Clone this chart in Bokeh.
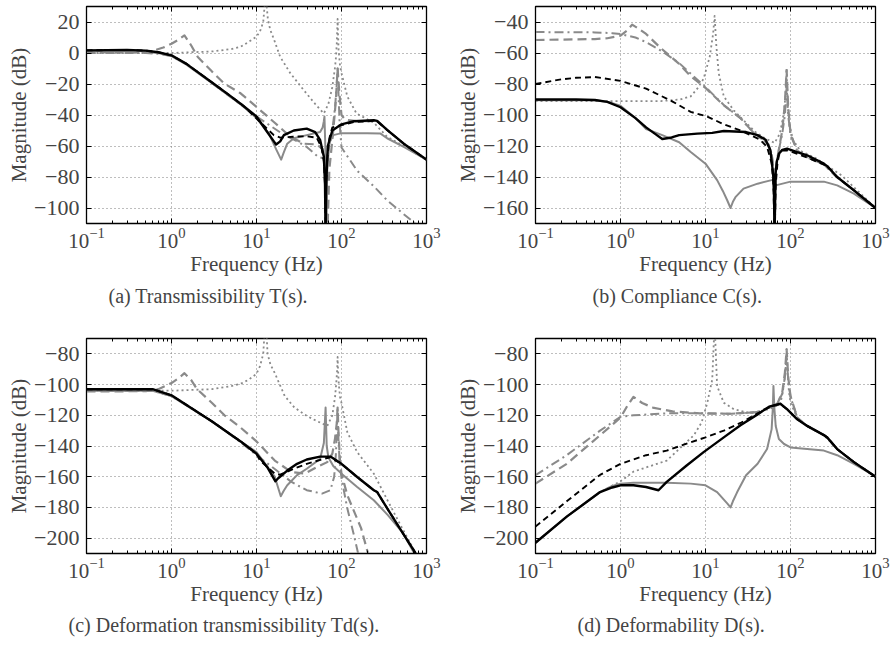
from bokeh.plotting import figure
from bokeh.models import (Range1d, FixedTicker, LogTickFormatter, CustomJSTickFormatter,
                          LinearAxis, LogAxis)
from bokeh.layouts import gridplot
from bokeh.embed import file_html
from bokeh.resources import INLINE

FONT = "Liberation Serif"
GRAY = "#8a8a8a"

X_TICKS = [0.1, 1, 10, 100, 1000]
X_MINOR = [m * 10.0 ** e for e in range(-1, 3) for m in range(2, 10)]
A_YTICKS = [-100, -80, -60, -40, -20, 0, 20]
B_YTICKS = [-160, -140, -120, -100, -80, -60, -40]
C_YTICKS = [-200, -180, -160, -140, -120, -100, -80]
D_YTICKS = [-200, -180, -160, -140, -120, -100, -80]

CAPTION_A = "(a)  Transmissibility T(s)."
CAPTION_B = "(b)  Compliance C(s)."
CAPTION_C = "(c)  Deformation transmissibility Td(s)."
CAPTION_D = "(d)  Deformability D(s)."

# ---------------- (a) Transmissibility ----------------
A_DOT_F = [0.1, 1, 3, 5, 6.5, 8, 10, 11, 12, 12.8, 13.6, 14.5, 16, 19, 25, 36, 51, 62, 70, 78, 84, 86, 88, 89, 90, 91, 92.5, 96, 100, 117, 150, 240, 344, 540, 1000]
A_DOT_DB = [0, 0, 1, 2.5, 4, 7, 10.5, 14, 20, 38, 22, 15, 9, -2.5, -13, -24, -34, -39, -33, -22, -9, -3, 6, 14, 22, 12, 2, -8, -13, -28, -39, -45, -54, -60, -69]
A_DD_F = [0.1, 0.5, 0.7, 1, 1.5, 2, 3, 5, 10, 20, 30, 39, 53, 62, 70, 78, 84, 88, 90, 92, 95, 100, 153, 240, 344, 540, 700, 850]
A_DD_DB = [0, 0, -0.5, -2, -7, -12, -19.5, -28.5, -41, -52, -57, -60.6, -67, -68, -62, -50, -35, -20, -10, -25, -45, -61, -76, -86, -95, -104, -109, -113]
A_GD_F = [0.1, 0.5, 0.63, 0.8, 1, 1.2, 1.42, 1.7, 2.04, 3, 4.2, 6.5, 10, 16, 25, 36, 51, 60, 65, 68, 72, 80, 86, 90, 94, 100, 110, 150, 260, 350, 540, 1000]
A_GD_DB = [0.3, 0.5, 1.7, 3.5, 6, 8.5, 11.4, 5, -2.6, -12, -19.8, -26, -34.8, -44.5, -54, -58.5, -59, -62, -75, -120, -75, -50, -30, -10, -25, -40, -43, -44, -44, -50, -58.5, -69]
A_GS_F = [0.1, 0.3, 0.5, 0.7, 1, 1.5, 2, 3, 5, 7, 10, 14, 17, 19.5, 21, 23, 27.5, 39, 56, 60, 62, 63, 64.5, 66, 68, 72, 80, 100, 200, 288, 344, 540, 1000]
A_GS_DB = [1.2, 1.5, 1.2, 0, -2, -7.5, -12.5, -19.5, -28.5, -34.5, -42, -52, -62, -68.8, -64, -58.5, -55, -53, -51, -48, -44, -41, -60, -120, -75, -58, -53, -51.7, -51.7, -52, -55, -60.6, -68.8]
A_BD_F = [0.1, 0.3, 0.5, 0.7, 1, 1.5, 2, 3, 5, 7, 11, 16, 19, 27, 39, 51, 58, 62, 64, 65, 66, 68, 72, 78, 100, 140, 240, 263, 344, 540, 1000]
A_BD_DB = [1.7, 2, 1.5, 0.5, -1.5, -7, -12, -19, -28, -34, -44.5, -53, -54.6, -54, -53.7, -54.6, -60.6, -70, -85, -120, -85, -68, -55, -48, -46.5, -44.5, -43.8, -44, -49.6, -58.5, -68.8]
A_BS_F = [0.1, 0.3, 0.5, 0.7, 1, 1.5, 2, 3, 5, 6.5, 10, 13, 16, 17, 19, 21, 27.5, 39, 49, 56, 62, 64, 65, 66, 69, 78, 100, 140, 240, 263, 344, 540, 1000]
A_BS_DB = [1.7, 2, 1.5, 0.5, -1.5, -7, -12, -19, -28, -32.7, -41, -50, -57, -59, -57, -53, -50, -48.8, -51, -56, -67, -85, -120, -85, -60, -50, -46, -44, -43.4, -43.8, -49.6, -58.5, -68.8]

# ---------------- (b) Compliance ----------------
B_DOT_F = [0.1, 1, 3, 5, 6.7, 8, 9.5, 11.2, 12.3, 12.8, 13.4, 14.3, 16.4, 21.5, 28, 38.7, 50, 65, 75, 84, 87, 89, 90, 91, 93, 96, 107, 130, 200, 400, 1000]
B_DOT_DB = [-91, -91, -91, -90, -88, -83, -76.6, -62.6, -47.5, -36, -55, -73, -88, -97, -103.4, -111, -115, -118, -112, -98, -88, -78, -70, -80, -92, -105, -116, -123, -128, -139, -160]
B_DD_F = [0.1, 0.5, 0.8, 1, 1.5, 2, 3, 4.9, 10, 16.4, 25.8, 37, 45, 55, 60, 63, 65, 67, 72, 80, 86, 90, 94, 100, 120, 160, 250, 350, 560, 1000]
B_DD_DB = [-46.5, -46.7, -47.2, -47.8, -50, -53, -58.5, -66.5, -82, -93.5, -102, -111.6, -115, -119, -125, -135, -180, -135, -124, -112, -100, -82, -100, -113, -123, -127.5, -132, -140, -148.6, -160]
B_GD_F = [0.1, 0.5, 0.7, 1, 1.2, 1.37, 1.6, 2, 3, 4.9, 6.7, 10, 16.4, 25.8, 37, 45, 55, 60, 63, 65, 67, 72, 80, 86, 90, 94, 100, 120, 160, 250, 350, 560, 1000]
B_GD_DB = [-51.6, -51, -50.5, -48.8, -45.5, -41.7, -44, -47.7, -57, -67, -75, -82.5, -93.8, -102, -111.6, -115, -119, -125, -135, -180, -135, -124, -110, -92, -71, -95, -112, -123, -127.5, -132, -140, -148.6, -160]
B_GS_F = [0.1, 0.5, 0.7, 1, 1.5, 2, 3.1, 4.9, 6.7, 10, 13.7, 16, 18, 19.7, 21, 22.5, 28, 41, 60, 64, 65.5, 67, 100, 247, 354, 557, 1000]
B_GS_DB = [-90.5, -90.5, -91.5, -94, -102, -109, -113, -117.6, -123.9, -131.4, -142, -149, -155, -160, -156, -153, -147.5, -144.3, -142, -141.5, -144, -145.4, -143, -143, -145.4, -150.7, -160]
B_BD_F = [0.1, 0.2, 0.3, 0.5, 1, 2, 4, 6.7, 10.5, 16.4, 25.8, 37, 44, 53, 60, 63, 65, 67, 70, 73, 80, 91, 120, 157, 247, 270, 354, 557, 1000]
B_BD_DB = [-80, -77, -76, -75.5, -78, -83, -91, -98, -101, -106, -110, -114, -116, -120.6, -131, -145, -180, -145, -132, -126, -123, -122.8, -125, -127.5, -132, -133, -140, -148.6, -160]
B_BS_F = [0.1, 0.3, 0.5, 0.7, 1, 1.5, 2, 2.6, 3.1, 4, 4.9, 8, 12, 16.4, 25.8, 30, 41, 51, 58, 62.5, 64, 65, 66, 66.8, 69, 73, 80, 91, 120, 157, 247, 270, 354, 557, 1000]
B_BS_DB = [-90, -90, -90.3, -91.5, -95, -102, -108, -112.5, -115.5, -114.5, -113, -112, -111.5, -110.3, -110.8, -111, -113, -116, -122.8, -138, -150, -180, -150, -138, -130, -125, -122.5, -121.7, -124, -126, -131.4, -133, -140, -148.6, -160]

# ---------------- (c) Deformation transmissibility ----------------
C_DOT_F = [0.1, 1, 3, 5, 6.5, 8, 10, 11, 12, 12.8, 13.5, 14.6, 16.4, 21.5, 28, 39, 51, 68, 78, 84, 87, 89, 90, 91, 93, 96, 100, 117, 153, 240, 345, 500, 750]
C_DOT_DB = [-104, -104, -103, -101, -99.5, -97, -93, -88, -80, -55, -80, -87, -92.5, -107.5, -115, -120.4, -123.7, -126.9, -120, -108, -98, -90, -82, -90, -100, -108, -112, -131, -144, -158, -175, -192, -210]
C_DD_F = [0.1, 0.6, 1, 3, 6.5, 10, 16.4, 25.8, 39, 59, 74, 82, 86, 88, 90, 92, 95, 100, 117, 140, 160]
C_DD_DB = [-104, -104, -107.5, -124, -137.5, -146, -155, -163.4, -168.8, -171, -168.8, -160, -145, -130, -116, -135, -150, -161, -180.6, -198, -212]
C_GD_F = [0.1, 0.5, 0.7, 1, 1.2, 1.42, 1.7, 2, 3, 4.2, 6.5, 10, 16.4, 25.8, 37, 51, 68, 78, 84, 88, 90, 92, 96, 100, 117, 170, 210]
C_GD_DB = [-104.5, -104.3, -103, -99, -96, -92.6, -97, -103, -112, -120, -128, -137, -149.5, -157, -158, -153.8, -150.5, -145, -135, -125, -115, -130, -150, -158, -172, -193.5, -212]
C_GS_F = [0.1, 0.6, 1, 3, 6.5, 10, 16.4, 19.3, 21, 23, 30, 39, 56, 62, 65, 67, 70, 80, 100, 153, 240, 351, 530, 720]
C_GS_DB = [-104, -104, -107.5, -124, -137, -144, -160, -172.7, -169, -165.6, -159, -154.8, -148.4, -138, -115, -140, -147.3, -153, -158, -166.7, -175.3, -185, -196.8, -210]
C_BD_F = [0.1, 0.6, 1, 3, 6.5, 10, 11, 16.4, 19, 27.5, 39, 58, 74, 100, 153, 240, 263, 345, 483, 743]
C_BD_DB = [-103, -103, -107, -124, -137, -145, -149.5, -158, -158.7, -154.8, -151.6, -148.8, -147.3, -151.6, -160.2, -168.8, -170, -180.6, -193.5, -209.7]
C_BS_F = [0.1, 0.6, 1, 3, 6.5, 10, 13.4, 16.7, 18, 23, 30, 39, 56, 74, 100, 153, 240, 263, 345, 483, 743]
C_BS_DB = [-103, -103, -107, -124, -137, -145, -153.8, -163, -161, -156, -151.6, -148.8, -146.9, -146.9, -151.6, -160.2, -168.8, -170, -180.6, -193.5, -209.7]

# ---------------- (d) Deformability ----------------
D_DOT_F = [0.1, 0.233, 0.575, 1, 1.42, 3.5, 7.3, 9, 10.5, 12, 12.8, 13.7, 16.4, 21.5, 34, 56, 76, 84, 87, 89, 90, 91, 93, 96, 100, 120, 157, 247, 354, 557, 1000]
D_DOT_DB = [-203, -186, -170, -163, -156.7, -149.5, -133, -124.7, -111.8, -96.8, -60, -101, -111.8, -116, -118.7, -116, -112.7, -100, -92, -84, -77, -84, -95, -105, -112, -121.5, -127, -132.9, -142, -150.5, -160]
D_DD_F = [0.1, 0.233, 0.575, 1, 1.42, 3.5, 8.6, 20, 40, 56, 70, 80, 86, 90, 94, 100, 120, 157, 247, 270, 354, 557, 1000]
D_DD_DB = [-159, -146, -130, -121, -120, -118.7, -118.7, -119, -118, -115, -112.5, -106, -95, -82, -97, -108, -121.5, -127, -132.9, -134.4, -142, -150.5, -160]
D_GD_F = [0.1, 0.233, 0.575, 1, 1.2, 1.42, 1.8, 2.4, 4.1, 8.6, 20, 40, 56, 70, 80, 86, 90, 94, 100, 120, 157, 247, 270, 354, 557, 1000]
D_GD_DB = [-164.5, -151.6, -133, -121.5, -114, -108, -112, -115, -117.5, -118.7, -119, -118, -115, -112.5, -105, -92, -77, -95, -107.5, -121.5, -127, -132.9, -134.4, -142, -150.5, -160]
D_GS_F = [0.1, 0.233, 0.575, 0.8, 1, 1.42, 3.5, 6.7, 10, 13.7, 18, 19.7, 21, 23.6, 30, 41, 53, 60, 62, 63, 64.5, 67, 73, 84, 100, 157, 247, 354, 557, 1000]
D_GS_DB = [-203, -186, -170, -166, -164.5, -164, -164, -164.5, -165.6, -170, -177.4, -180, -176, -170, -159, -151.6, -142, -129, -115, -101, -115, -127, -135.5, -138.7, -140.9, -142, -143, -146, -151.6, -159.8]
D_BD_F = [0.1, 0.233, 0.575, 1, 2, 3.5, 6.7, 10, 16.4, 25.8, 41, 60, 76, 91, 120, 157, 247, 270, 354, 557, 1000]
D_BD_DB = [-192.5, -176, -158.8, -151.6, -146, -143, -137.6, -134.4, -130, -125, -118.7, -114, -112.7, -116, -122.6, -126.9, -132.9, -134.4, -142, -150.5, -160]
D_BS_F = [0.1, 0.233, 0.575, 0.8, 1, 1.42, 2, 2.8, 3.5, 6, 9.5, 16.4, 25.8, 41, 56, 76, 91, 120, 157, 247, 270, 354, 557, 1000]
D_BS_DB = [-203, -186, -170, -167, -165.6, -165.6, -166.7, -168.8, -163.4, -152.7, -144, -134.4, -126.5, -119.4, -114.4, -112.5, -116, -122.6, -126.9, -132.9, -134.4, -142, -150.5, -160]

STYLE = {
    "dot": dict(line_color=GRAY, line_width=1.8, line_dash="2 3"),
    "dd": dict(line_color=GRAY, line_width=2.0, line_dash="9 4 2 4"),
    "gd": dict(line_color=GRAY, line_width=2.2, line_dash="9 5"),
    "gs": dict(line_color=GRAY, line_width=2.0),
    "bd": dict(line_color="black", line_width=1.9, line_dash="6 4"),
    "bs": dict(line_color="black", line_width=2.4),
}

YFMT = "return tick < 0 ? '\\u2212' + Math.abs(tick) : String(tick);"


def make_panel(caption, cap_offset, cap_standoff, ylo, yhi, yticks, curves,
               width, height, left, right, top, bottom):
    p = figure(width=width, height=height, x_axis_type="log",
               x_range=Range1d(0.1, 1000), y_range=Range1d(ylo, yhi),
               output_backend="svg", toolbar_location=None,
               title=caption, title_location="below",
               min_border_left=left, min_border_right=right,
               min_border_top=top, min_border_bottom=bottom)
    p.title.align = "left"
    p.title.offset = cap_offset
    p.title.text_font = FONT
    p.title.text_font_size = "20px"
    p.title.text_font_style = "normal"
    p.title.standoff = cap_standoff

    xt = FixedTicker(ticks=X_TICKS, minor_ticks=X_MINOR)
    yt = FixedTicker(ticks=yticks)

    xa = p.xaxis[0]
    xa.ticker = xt
    xa.formatter = LogTickFormatter()
    xa.axis_label = "Frequency (Hz)"
    xa.axis_label_text_font = FONT
    xa.axis_label_text_font_size = "21px"
    xa.axis_label_text_font_style = "normal"
    xa.axis_label_standoff = 1
    xa.major_label_text_font = FONT
    xa.major_label_text_font_size = "21px"
    xa.major_label_standoff = 4
    xa.major_tick_in = 5
    xa.major_tick_out = 0
    xa.minor_tick_in = 3
    xa.minor_tick_out = 0

    ya = p.yaxis[0]
    ya.ticker = yt
    ya.formatter = CustomJSTickFormatter(code=YFMT)
    ya.axis_label = "Magnitude (dB)"
    ya.axis_label_text_font = FONT
    ya.axis_label_text_font_size = "21px"
    ya.axis_label_text_font_style = "normal"
    ya.axis_label_standoff = 0
    ya.major_label_text_font = FONT
    ya.major_label_text_font_size = "22px"
    ya.major_label_standoff = 7
    ya.major_tick_in = 5
    ya.major_tick_out = 0
    ya.minor_tick_line_color = None

    empty = CustomJSTickFormatter(code="return '';")
    top_ax = LogAxis(ticker=xt, formatter=empty, major_tick_in=5, major_tick_out=0,
                     minor_tick_in=3, minor_tick_out=0, major_label_standoff=0,
                     major_label_text_font_size="1px", axis_line_color=None)
    right_ax = LinearAxis(ticker=yt, formatter=empty, major_tick_in=5, major_tick_out=0,
                          minor_tick_line_color=None, major_label_standoff=0,
                          major_label_text_font_size="1px", axis_line_color=None)
    p.add_layout(top_ax, "above")
    p.add_layout(right_ax, "right")

    for g in (p.xgrid[0], p.ygrid[0]):
        g.grid_line_color = "#7c7c7c"
        g.grid_line_dash = "1 3"
        g.grid_line_width = 1
    p.xgrid[0].ticker = xt
    p.ygrid[0].ticker = yt

    p.outline_line_color = "black"
    p.outline_line_width = 1.3
    p.outline_line_alpha = 1.0
    p.background_fill_color = "white"
    p.border_fill_color = "white"

    for key, f, db in curves:
        p.line(f, db, line_join="round", **STYLE[key])
    return p


pa = make_panel(CAPTION_A, 22, 9, -110, 30, A_YTICKS,
                [("dot", A_DOT_F, A_DOT_DB), ("dd", A_DD_F, A_DD_DB), ("gd", A_GD_F, A_GD_DB),
                 ("gs", A_GS_F, A_GS_DB), ("bd", A_BD_F, A_BD_DB), ("bs", A_BS_F, A_BS_DB)],
                445, 320, 86, 19, 6, 97)
pb = make_panel(CAPTION_B, 57, 9, -170, -30, B_YTICKS,
                [("dot", B_DOT_F, B_DOT_DB), ("dd", B_DD_F, B_DD_DB), ("gd", B_GD_F, B_GD_DB),
                 ("gs", B_GS_F, B_GS_DB), ("bd", B_BD_F, B_BD_DB), ("bs", B_BS_F, B_BS_DB)],
                446, 320, 90, 16, 6, 97)
pc = make_panel(CAPTION_C, -18, 7, -210, -70, C_YTICKS,
                [("dot", C_DOT_F, C_DOT_DB), ("dd", C_DD_F, C_DD_DB), ("gd", C_GD_F, C_GD_DB),
                 ("gs", C_GS_F, C_GS_DB), ("bd", C_BD_F, C_BD_DB), ("bs", C_BS_F, C_BS_DB)],
                445, 336, 86, 19, 18, 103)
pd = make_panel(CAPTION_D, 42, 7, -210, -70, D_YTICKS,
                [("dot", D_DOT_F, D_DOT_DB), ("dd", D_DD_F, D_DD_DB), ("gd", D_GD_F, D_GD_DB),
                 ("gs", D_GS_F, D_GS_DB), ("bd", D_BD_F, D_BD_DB), ("bs", D_BS_F, D_BS_DB)],
                446, 336, 90, 16, 18, 103)

grid = gridplot([[pa, pb], [pc, pd]], toolbar_location=None)
open("out.html", "w").write(file_html(grid, INLINE))
